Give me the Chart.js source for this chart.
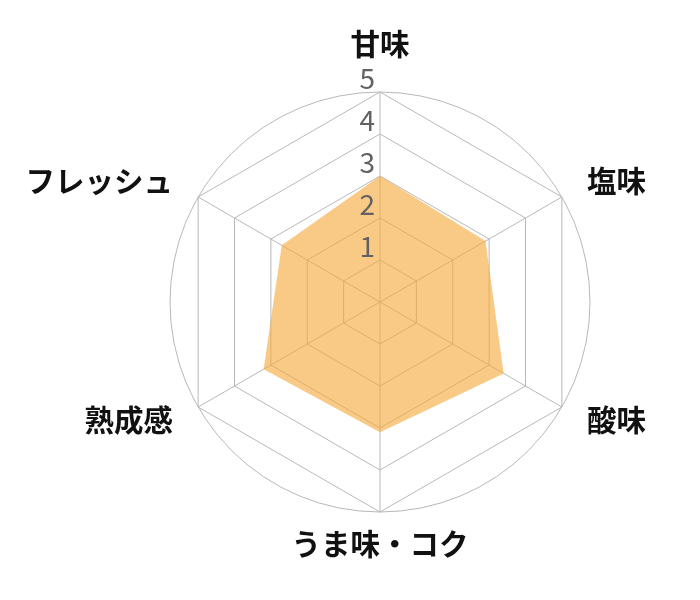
<!DOCTYPE html>
<html>
<head>
<meta charset="utf-8">
<script src="https://cdn.jsdelivr.net/npm/chart.js@4"></script>
<style>
    html, body { margin: 0; padding: 0; background: #fff; }
    #wrap { width: 700px; height: 600px; position: relative; }
</style>
</head>
<body>
<div id="wrap"><canvas id="radar"></canvas></div>
<script>
    var labels = ['甘味', '塩味', '酸味', 'うま味・コク', '熟成感', 'フレッシュ'];
    var values = [3.0, 2.9, 3.4, 3.1, 3.2, 2.7];
    var tickValues = [1, 2, 3, 4, 5];

    var gridColor = '#b8b8b8';
    var fontFamily = '"Noto Sans CJK JP", "Noto Sans", sans-serif';

    // outer circle + tick numbers + point labels, drawn from the scale itself
    var radarExtras = {
        id: 'radarExtras',
        beforeDatasetsDraw: function(chart) {
            var r = chart.scales.r;
            var ctx = chart.ctx;
            ctx.save();
            ctx.strokeStyle = gridColor;
            ctx.lineWidth = 1;
            ctx.beginPath();
            ctx.arc(r.xCenter, r.yCenter, r.getDistanceFromCenterForValue(r.max), 0, Math.PI * 2);
            ctx.stroke();
            ctx.restore();
        },
        afterDatasetsDraw: function(chart) {
            var r = chart.scales.r;
            var ctx = chart.ctx;
            ctx.save();

            // tick numbers, left of the vertical axis
            ctx.font = '28px ' + fontFamily;
            ctx.fillStyle = '#626262';
            ctx.textAlign = 'right';
            ctx.textBaseline = 'middle';
            tickValues.forEach(function(v) {
                var d = r.getDistanceFromCenterForValue(v);
                ctx.fillText(String(v), r.xCenter - 5, r.yCenter - d - 13.5);
            });

            // category labels
            ctx.font = 'bold 29.5px ' + fontFamily;
            ctx.fillStyle = '#111111';
            labels.forEach(function(lbl, i) {
                var angle = r.getIndexAngle(i);
                var s = Math.sin(angle);
                var vertical = Math.abs(s) < 0.1;
                var dist = vertical ? 250 : 239;
                var p = r.getPointPosition(i, dist);
                ctx.textAlign = vertical ? 'center' : (s > 0 ? 'left' : 'right');
                ctx.fillText(lbl, p.x, p.y + (vertical ? -8 : -2));
            });
            ctx.restore();
        }
    };

    new Chart(document.getElementById('radar'), {
        type: 'radar',
        data: {
            labels: labels,
            datasets: [{
                data: values,
                backgroundColor: 'rgba(245, 170, 60, 0.62)',
                borderWidth: 0,
                pointRadius: 0,
                fill: true
            }]
        },
        options: {
            responsive: true,
            maintainAspectRatio: false,
            animation: false,
            layout: { padding: { top: 92, bottom: 88, left: 170, right: 110 } },
            plugins: {
                legend: { display: false },
                tooltip: { enabled: false }
            },
            scales: {
                r: {
                    min: 0,
                    max: 5,
                    ticks: { display: false, stepSize: 1 },
                    pointLabels: { display: false },
                    grid: { color: gridColor, lineWidth: 1 },
                    angleLines: { color: gridColor, lineWidth: 1 }
                }
            }
        },
        plugins: [radarExtras]
    });
</script>
</body>
</html>
